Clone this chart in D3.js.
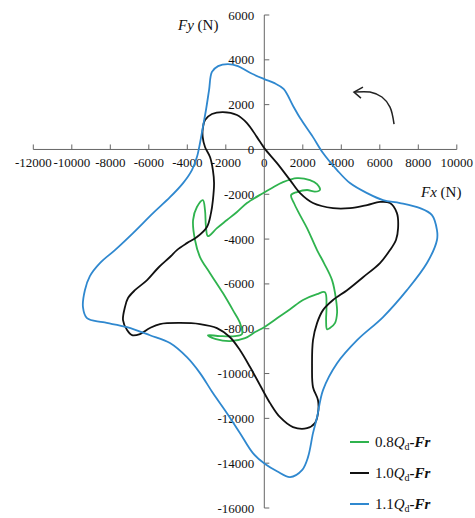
<!DOCTYPE html>
<html>
<head>
<meta charset="utf-8">
<script src="https://cdn.jsdelivr.net/npm/d3@7"></script>
<style>
    body { margin: 0; background: #fff; }
    text { font-family: "Liberation Serif", "Times New Roman", serif; fill: #111; }
</style>
</head>
<body>
<script>
// force loci [Fx, Fy] in N
const seriesNames = ['0.8', '1.0', '1.1'];
const seriesColors = ['#2fb34e', '#111111', '#2f88cf'];

const green08 = [[-2930, -3870], [-2460, -3510], [-1940, -3150], [-1420, -2790], [-900, -2390], [-70, -1950],
    [400, -1720], [970, -1460], [1700, -1280], [2370, -1370], [2740, -1550], [2890, -1810], [2630, -1880],
    [2220, -1810], [1700, -1900], [1390, -2040], [1540, -2390], [1800, -2840], [2220, -3510], [2740, -4490],
    [3100, -5070], [3520, -5830], [3730, -6720], [3780, -7300], [3670, -7750], [3410, -7970], [3260, -8020],
    [3210, -7620], [3230, -7040], [3150, -6370], [2740, -6460], [2010, -6720], [1340, -7130], [660, -7530],
    [0, -7930], [-480, -8150], [-1000, -8420], [-1780, -8550], [-2510, -8460], [-2930, -8290], [-2300, -8330],
    [-1520, -8330], [-1160, -8240], [-1260, -7750], [-1630, -7170], [-2150, -6410], [-2820, -5520],
    [-3340, -4800], [-3600, -4040], [-3700, -3150], [-3500, -2570], [-3190, -2260], [-3080, -2710], [-3030, -3460]];

const black10 = [[-2150, 1670], [-2720, 1580], [-3080, 1310], [-3190, 960], [-3200, 550], [-3080, 110],
    [-2820, -340], [-2670, -920], [-2610, -1500], [-2670, -2260], [-2770, -2840], [-2980, -3460], [-3500, -3910],
    [-4020, -4180], [-4540, -4490], [-4900, -4800], [-5520, -5290], [-6090, -5830], [-6720, -6280], [-7080, -6630],
    [-7240, -7040], [-7340, -7620], [-7130, -8060], [-6870, -8290], [-6460, -8240], [-5940, -7970], [-5420, -7790],
    [-4380, -7740], [-3340, -7790], [-2460, -7970], [-1780, -8380], [-1260, -8960], [-740, -9710], [-220, -10520],
    [300, -11320], [820, -11950], [1490, -12390], [2220, -12440], [2630, -12210], [2790, -11770], [2790, -11190],
    [2530, -10610], [2480, -9710], [2530, -8510], [2740, -7750], [3050, -7170], [3570, -6720], [4300, -6280],
    [5130, -5700], [6010, -5070], [6530, -4490], [6840, -4040], [6950, -3510], [6890, -2840], [6530, -2390],
    [6010, -2340], [5340, -2480], [4450, -2620], [3570, -2620], [2530, -2390], [1860, -1950], [1340, -1370],
    [660, -610], [0, 60], [-380, 550], [-900, 1180], [-1420, 1540]];

const blue11 = [[-1890, 3810], [-2400, 3720], [-2720, 3460], [-2870, 2650], [-3030, 1760], [-3190, 1000],
    [-3340, 290], [-3500, -340], [-3760, -920], [-4220, -1500], [-4900, -2130], [-5780, -2840], [-6820, -3730],
    [-7760, -4490], [-8540, -5070], [-9060, -5650], [-9320, -6280], [-9420, -7040], [-9210, -7530], [-8380, -7710],
    [-7130, -7930], [-5940, -8290], [-4900, -8640], [-4020, -9270], [-3340, -9980], [-2670, -10870],
    [-1940, -11770], [-1260, -12660], [-590, -13550], [40, -14040], [660, -14360], [1340, -14620], [1960, -14310],
    [2270, -13730], [2530, -12660], [2740, -11950], [3050, -10740], [3780, -9540], [4820, -8510], [6170, -7480],
    [7410, -6280], [8450, -5070], [8970, -4040], [8970, -3600], [8710, -2930], [8090, -2620], [7050, -2390],
    [6170, -2260], [5340, -1950], [4450, -1500], [3780, -920], [3050, -160], [2530, 550], [1860, 1400],
    [1490, 1950], [1000, 2700], [500, 2970], [0, 3140], [-740, 3420], [-1370, 3720]];

const xTicks = [-12000, -10000, -8000, -6000, -4000, -2000, 0, 2000, 4000, 6000, 8000, 10000];
const yTicks = [6000, 4000, 2000, 0, -2000, -4000, -6000, -8000, -10000, -12000, -14000, -16000];

// rotation arrow, in data units
const arrowPath = [[6740, 1130], [6530, 1890], [6110, 2340], [5490, 2560], [4710, 2560]];

const w = 475;
const h = 518;

const svg = d3.select("body")
    .append("svg")
    .attr("width", w)
    .attr("height", h);

const xScale = d3.scaleLinear()
    .domain([-12000, 10000])
    .range([33.3, 456.8]);

const yScale = d3.scaleLinear()
    .domain([6000, -16000])
    .range([15, 508]);

const x0 = xScale(0);
const y0 = yScale(0);
const axisColor = '#666';

// x axis: line through y=0, ticks pointing up, labels below
const xAxisG = svg.append('g');
xAxisG.append('line')
    .attr('x1', xScale(-12000)).attr('x2', xScale(10000))
    .attr('y1', y0).attr('y2', y0)
    .attr('stroke', axisColor);
xAxisG.selectAll('line.tick')
    .data(xTicks)
    .enter()
    .append('line')
    .attr('class', 'tick')
    .attr('x1', d => xScale(d)).attr('x2', d => xScale(d))
    .attr('y1', y0).attr('y2', y0 - 5)
    .attr('stroke', axisColor);
xAxisG.selectAll('text')
    .data(xTicks)
    .enter()
    .append('text')
    .attr('x', d => xScale(d))
    .attr('y', y0 + 18)
    .attr('text-anchor', 'middle')
    .attr('font-size', 13)
    .text(d => d);

// y axis: line through x=0, ticks pointing right, labels left
const yAxisG = svg.append('g');
yAxisG.append('line')
    .attr('x1', x0).attr('x2', x0)
    .attr('y1', yScale(6000)).attr('y2', yScale(-16000))
    .attr('stroke', axisColor);
yAxisG.selectAll('line.tick')
    .data(yTicks)
    .enter()
    .append('line')
    .attr('class', 'tick')
    .attr('x1', x0).attr('x2', x0 + 5)
    .attr('y1', d => yScale(d)).attr('y2', d => yScale(d))
    .attr('stroke', axisColor);
yAxisG.selectAll('text')
    .data(yTicks)
    .enter()
    .append('text')
    .attr('x', x0 - 10)
    .attr('y', d => yScale(d) + 4.5)
    .attr('text-anchor', 'end')
    .attr('font-size', 13)
    .text(d => d);

// curves
const line = d3.line()
    .x(d => xScale(d[0]))
    .y(d => yScale(d[1]))
    .curve(d3.curveCatmullRomClosed.alpha(0.5));

const allSeries = [green08, black10, blue11];
svg.selectAll('path.locus')
    .data(allSeries)
    .enter()
    .append('path')
    .attr('class', 'locus')
    .attr('d', d => line(d))
    .attr('fill', 'none')
    .attr('stroke', (d, i) => seriesColors[i])
    .attr('stroke-width', 1.8);

// arrow
const arrowLine = d3.line()
    .x(d => xScale(d[0]))
    .y(d => yScale(d[1]))
    .curve(d3.curveCatmullRom);
svg.append('path')
    .attr('d', arrowLine(arrowPath))
    .attr('fill', 'none')
    .attr('stroke', '#222')
    .attr('stroke-width', 1.5);
const tipX = xScale(arrowPath[4][0]);
const tipY = yScale(arrowPath[4][1]);
svg.append('path')
    .attr('d', `M${tipX + 8},${tipY - 5}L${tipX - 1},${tipY}L${tipX + 6},${tipY + 6}`)
    .attr('fill', 'none')
    .attr('stroke', '#222')
    .attr('stroke-width', 1.5);

// axis titles
const fyLabel = svg.append('text')
    .attr('x', 178)
    .attr('y', 30)
    .attr('font-size', 15);
fyLabel.append('tspan').attr('font-style', 'italic').text('Fy');
fyLabel.append('tspan').text(' (N)');

const fxLabel = svg.append('text')
    .attr('x', 421)
    .attr('y', 197)
    .attr('font-size', 15);
fxLabel.append('tspan').attr('font-style', 'italic').text('Fx');
fxLabel.append('tspan').text(' (N)');

// legend
const legend = svg.append('g')
    .attr('transform', 'translate(350, 442)');
seriesNames.forEach((name, i) => {
    const row = legend.append('g')
        .attr('transform', `translate(0, ${i * 31})`);
    row.append('line')
        .attr('x1', 0).attr('x2', 19)
        .attr('stroke', seriesColors[i])
        .attr('stroke-width', 2);
    const t = row.append('text')
        .attr('x', 25)
        .attr('y', 5)
        .attr('font-size', 15);
    t.append('tspan').text(name);
    t.append('tspan').attr('font-style', 'italic').text('Q');
    t.append('tspan').attr('font-size', 10).attr('dy', 3).text('d');
    t.append('tspan').attr('dy', -3).attr('font-weight', 'bold').text('-');
    t.append('tspan').attr('font-style', 'italic').attr('font-weight', 'bold').text('Fr');
});
</script>
</body>
</html>
